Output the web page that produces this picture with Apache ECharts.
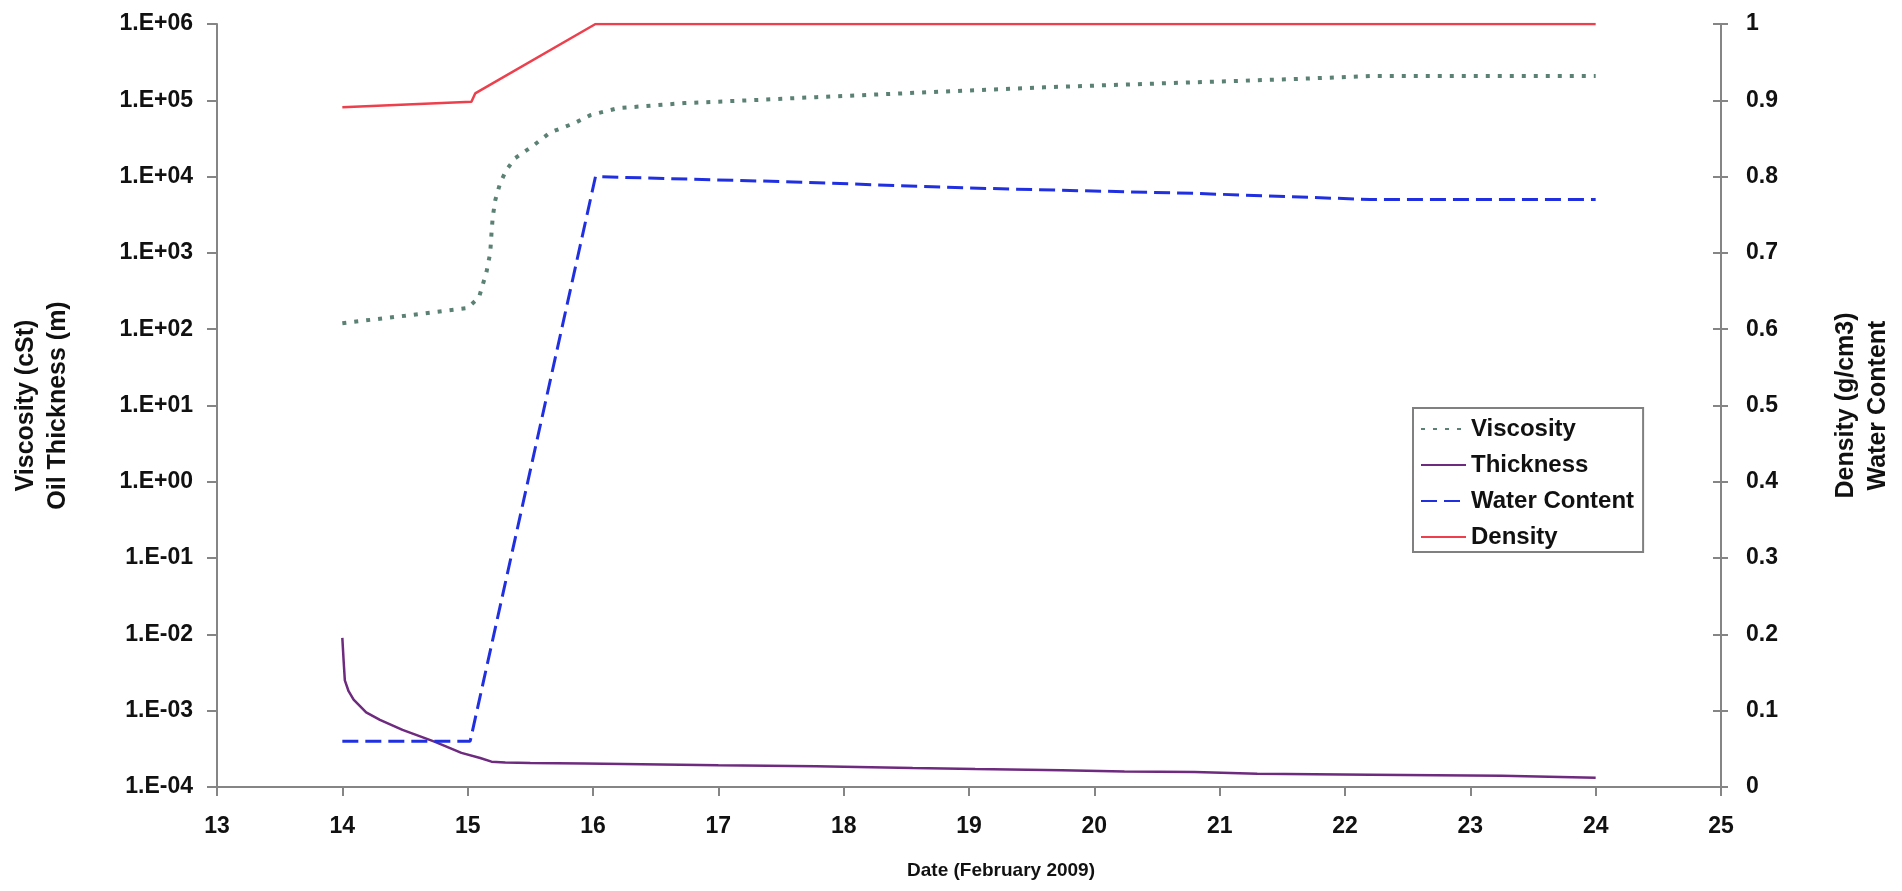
<!DOCTYPE html>
<html>
<head>
<meta charset="utf-8">
<title>Oil weathering</title>
<script src="https://cdn.jsdelivr.net/npm/echarts@6/dist/echarts.min.js"></script>
<style>
  html, body { margin: 0; padding: 0; background: #fff; }
  .chart { width: 1902px; height: 891px; }
</style>
</head>
<body>
<div class="chart"></div>
<script>
// data (day of February 2009)
var viscDays = [14.0, 14.5, 15.0, 15.09, 15.15, 15.18, 15.19, 15.2, 15.22, 15.26, 15.31, 15.38, 15.51, 15.66, 15.85, 15.98, 16.2, 16.46, 16.73, 17.25, 17.78, 18.7, 19.6, 20.6, 21.6, 22.2, 23.0, 24.0]
var viscValues = [120, 150, 190, 260, 560, 1000, 1800, 2950, 4900, 8300, 12300, 17500, 24500, 38000, 50000, 64000, 79000, 85000, 92000, 100000, 110000, 128000, 148000, 168000, 190000, 208000, 208000, 208000]

var thickDays = [14.0, 14.01, 14.02, 14.05, 14.09, 14.19, 14.3, 14.48, 14.74, 14.95, 15.1, 15.19, 15.3, 15.5, 15.93, 17.0, 17.78, 18.55, 19.05, 19.74, 20.24, 20.8, 21.3, 22.2, 23.25, 24.0]
var thickValues = [0.0090, 0.0046, 0.0025, 0.0018, 0.0014, 0.00095, 0.00076, 0.00056, 0.00039, 0.00028, 0.00024, 0.000215, 0.000210, 0.000207, 0.000203, 0.000193, 0.000187, 0.000177, 0.000172, 0.000166, 0.000160, 0.000157, 0.000149, 0.000145, 0.000140, 0.000132]

var waterDays = [14.0, 15.02, 16.02, 17.6, 19.0, 20.8, 22.2, 24.0]
var waterValues = [0.06, 0.06, 0.80, 0.793, 0.785, 0.778, 0.77, 0.77]

var densDays = [14.0, 15.03, 15.06, 16.02, 24.0]
var densValues = [0.891, 0.898, 0.909, 1.0, 1.0]

function pairs(xs, ys) {
  return xs.map(function (x, i) { return [x, ys[i]] })
}

(function () {
  var myChart = echarts.init(document.querySelector('.chart'))
  var font = 'Arial, "Liberation Sans", sans-serif'
  var labelStyle = { color: '#111', fontSize: 23, fontWeight: 'bold', fontFamily: font }
  var titleStyle = { color: '#111', fontSize: 25, fontWeight: 'bold', fontFamily: font, lineHeight: 32 }
  var axisGray = '#858585'

  option = {
    backgroundColor: '#fff',
    animation: false,
    grid: { left: 217, right: 172, top: 24, bottom: 104 },
    legend: {
      orient: 'vertical',
      left: 1413,
      top: 408,
      padding: [8, 9, 2, 7],
      itemWidth: 45,
      itemHeight: 14,
      itemGap: 10,
      // hide the symbol in the middle of the legend line
      itemStyle: { opacity: 0 },
      backgroundColor: '#fff',
      borderColor: '#808080',
      borderWidth: 2,
      textStyle: { color: '#111', fontSize: 24, fontWeight: 'bold', fontFamily: font, lineHeight: 26 },
      data: ['Viscosity', 'Thickness', 'Water Content', 'Density']
    },
    xAxis: {
      type: 'value',
      min: 13,
      max: 25,
      interval: 1,
      name: 'Date (February 2009)',
      nameLocation: 'middle',
      nameGap: 74,
      nameTextStyle: { color: '#111', fontSize: 19, fontWeight: 'bold', fontFamily: font, padding: [0, 0, 0, 64] },
      axisLine: { lineStyle: { color: axisGray, width: 2 } },
      axisTick: { length: 9, lineStyle: { color: axisGray, width: 2 } },
      axisLabel: Object.assign({ margin: 28 }, labelStyle),
      splitLine: { show: false }
    },
    yAxis: [{
      type: 'log',
      logBase: 10,
      min: 0.0001,
      max: 1000000,
      splitNumber: 10,
      position: 'left',
      name: 'Viscosity (cSt)\nOil Thickness (m)',
      nameLocation: 'middle',
      nameGap: 143,
      nameTextStyle: titleStyle,
      axisLine: { show: true, lineStyle: { color: axisGray, width: 2 } },
      axisTick: { show: true, length: 10, lineStyle: { color: axisGray, width: 2 } },
      axisLabel: Object.assign({
        margin: 24,
        formatter: function (val) {
          var e = Math.round(Math.log(val) / Math.LN10)
          var a = Math.abs(e)
          return '1.E' + (e < 0 ? '-' : '+') + (a < 10 ? '0' : '') + a
        }
      }, labelStyle),
      splitLine: { show: false }
    }, {
      type: 'value',
      min: 0,
      max: 1,
      interval: 0.1,
      position: 'right',
      name: 'Density (g/cm3)\nWater Content',
      nameLocation: 'middle',
      nameGap: 109,
      nameTextStyle: titleStyle,
      axisLine: { show: true, lineStyle: { color: axisGray, width: 2 } },
      axisTick: { show: true, length: 7, lineStyle: { color: axisGray, width: 2 } },
      axisLabel: Object.assign({ margin: 25 }, labelStyle),
      splitLine: { show: false }
    }, {
      // inner half of the cross ticks on the right axis
      type: 'value',
      min: 0,
      max: 1,
      interval: 0.1,
      position: 'right',
      axisLine: { show: false },
      axisTick: { show: true, inside: true, length: 8, lineStyle: { color: axisGray, width: 2 } },
      axisLabel: { show: false },
      splitLine: { show: false }
    }],
    series: [{
      name: 'Viscosity',
      type: 'line',
      yAxisIndex: 0,
      symbol: 'none',
      color: '#5b8175',
      lineStyle: { color: '#5b8175', width: 4, type: [4, 8] },
      data: pairs(viscDays, viscValues)
    }, {
      name: 'Thickness',
      type: 'line',
      yAxisIndex: 0,
      symbol: 'none',
      color: '#6e2a7e',
      lineStyle: { color: '#6e2a7e', width: 2.5 },
      data: pairs(thickDays, thickValues)
    }, {
      name: 'Water Content',
      type: 'line',
      yAxisIndex: 1,
      symbol: 'none',
      color: '#2030e0',
      lineStyle: { color: '#2030e0', width: 3, type: [16, 7] },
      data: pairs(waterDays, waterValues)
    }, {
      name: 'Density',
      type: 'line',
      yAxisIndex: 1,
      symbol: 'none',
      color: '#ee3f4c',
      lineStyle: { color: '#ee3f4c', width: 2.5 },
      data: pairs(densDays, densValues)
    }]
  };
  myChart.setOption(option)
  window.addEventListener('resize', function () {
    myChart.resize();
  })
})();
</script>
</body>
</html>
